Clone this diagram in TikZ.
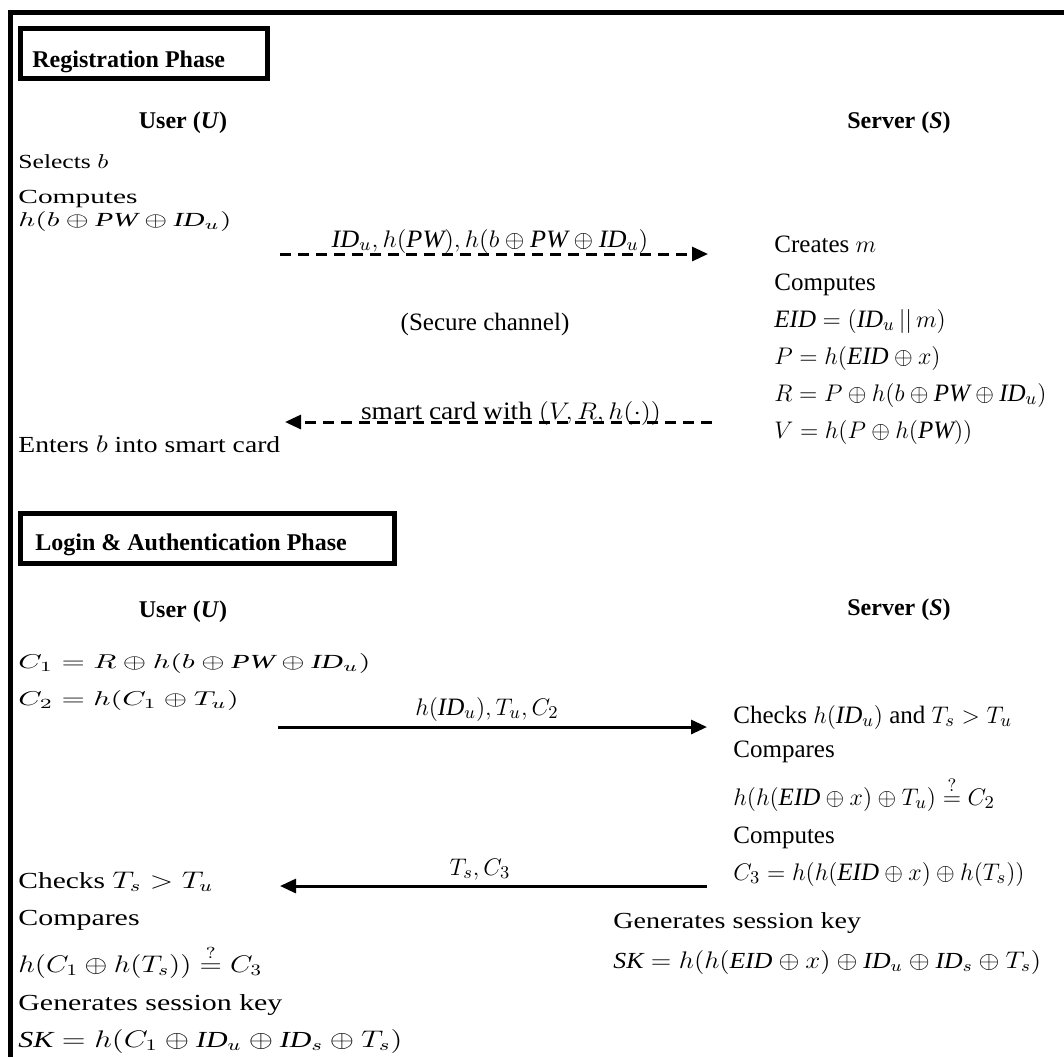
\documentclass[tikz,border=0pt]{standalone}
\usepackage{amsmath,amssymb}
\usepackage{fontspec}
\setmainfont{Liberation Serif}
\usetikzlibrary{arrows.meta}
\newcommand{\xstretch}[2]{\scalebox{#1}[1]{#2}}
\newcommand{\idf}[1]{\textnormal{\itshape #1}}
\newcommand{\qeq}{\mathrel{\smash{\stackrel{?}{=}}}}

\begin{document}
\begin{tikzpicture}[x=0.5pt,y=-0.5pt,
  txt/.style={anchor=base west, inner sep=0pt, font=\fontsize{12.5}{15}\selectfont},
  smalltxt/.style={txt, font=\fontsize{10}{12}\selectfont},
  midtxt/.style={txt, font=\fontsize{11.5}{14}\selectfont},
  lbl/.style={anchor=base, inner sep=0pt, font=\fontsize{12.5}{15}\selectfont},
  hdr/.style={anchor=base, inner sep=0pt, font=\fontsize{12}{14}\selectfont\bfseries},
  phasebox/.style={draw, line width=2.5pt, anchor=north west, minimum height=25pt},
  msg/.style={line width=1.5pt, -{Triangle[length=8pt,width=7pt]}},
  msgdash/.style={msg, dash pattern=on 5.5pt off 3.5pt}]
\useasboundingbox (0,0) rectangle (1064,1057);
\draw[line width=2.5pt] (10.5,1057) -- (10.5,12) -- (1064,12);

\node[phasebox, minimum width=123.5pt] (regbox) at (18,26) {};
\node[hdr, anchor=base west] (regtitle) at (32,67) {Registration Phase};
\node[hdr] (user1) at (183,128) {User (\textit{U})};
\node[hdr] (server1) at (899,128) {Server (\textit{S})};

\node[smalltxt] (sel) at (18,168) {\xstretch{1.28}{Selects $b$}};
\node[smalltxt] (ucomp) at (18,203) {\xstretch{1.47}{Computes}};
\node[smalltxt] (uhash) at (18,226) {\xstretch{1.47}{$h(b\oplus \idf{PW}\oplus \idf{ID}_u)$}};
\node[midtxt] (enter) at (18,452) {\xstretch{1.2}{Enters $b$ into smart card}};

\node[txt] (crm) at (774,252) {Creates $m$};
\node[txt] (scomp) at (774,290) {Computes};
\node[txt] (eid) at (774,327) {$\idf{EID}=(\idf{ID}_u\,||\,m)$};
\node[txt] (pval) at (774,364) {$P=h(\idf{EID}\oplus x)$};
\node[txt] (rval) at (774,401) {$R=P\oplus h(b\oplus \idf{PW}\oplus \idf{ID}_u)$};
\node[txt] (vval) at (774,438) {$V=h(P\oplus h(\idf{PW}))$};

\coordinate (r1a) at (280,254);
\coordinate (r1b) at (708,254);
\coordinate (r2a) at (712,422);
\coordinate (r2b) at (285,422);
\draw[msgdash] (r1a) -- (r1b);
\draw[msgdash] (r2a) -- (r2b);
\node[lbl] (r1l) at (490,247) {\xstretch{1.05}{$\idf{ID}_u, h(\idf{PW}), h(b\oplus \idf{PW}\oplus \idf{ID}_u)$}};
\node[lbl] (secure) at (485,330) {(Secure channel)};
\node[lbl] (r2l) at (511,419) {\xstretch{1.1}{smart card with $(V, R, h(\cdot))$}};

\node[phasebox, minimum width=187pt] (logbox) at (18,511) {};
\node[hdr, anchor=base west] (logtitle) at (35,550) {Login \& Authentication Phase};
\node[hdr] (user2) at (183,617) {User (\textit{U})};
\node[hdr] (server2) at (899,615) {Server (\textit{S})};

\node[smalltxt] (c1) at (18,668) {\xstretch{1.5}{$C_1=R\oplus h(b\oplus \idf{PW}\oplus \idf{ID}_u)$}};
\node[smalltxt] (c2) at (18,705) {\xstretch{1.5}{$C_2=h(C_1\oplus T_u)$}};
\node[midtxt] (uchk) at (18,888) {\xstretch{1.28}{Checks $T_s>T_u$}};
\node[midtxt] (ucmp) at (18,925) {\xstretch{1.3}{Compares}};
\node[midtxt] (ver3) at (18,972) {\xstretch{1.22}{$h(C_1\oplus h(T_s))\qeq C_3$}};
\node[midtxt] (ugen) at (18,1010) {\xstretch{1.3}{Generates session key}};
\node[midtxt] (usk) at (18,1047) {\xstretch{1.3}{$\idf{SK}=h(C_1\oplus \idf{ID}_u\oplus \idf{ID}_s\oplus T_s)$}};

\node[txt] (chk) at (733,723) {Checks $h(\idf{ID}_u)$ and $T_s>T_u$};
\node[txt] (scmp) at (733,757) {Compares};
\node[txt] (ver2) at (733,805) {$h(h(\idf{EID}\oplus x)\oplus T_u)\qeq C_2$};
\node[txt] (scomp2) at (733,843) {Computes};
\node[txt] (c3) at (733,880) {$C_3=h(h(\idf{EID}\oplus x)\oplus h(T_s))$};
\node[midtxt] (sgen) at (613,928) {\xstretch{1.22}{Generates session key}};
\node[midtxt] (ssk) at (613,968) {\xstretch{1.12}{$\idf{SK}=h(h(\idf{EID}\oplus x)\oplus \idf{ID}_u\oplus \idf{ID}_s\oplus T_s)$}};

\coordinate (l1a) at (278,727);
\coordinate (l1b) at (707,727);
\coordinate (l2a) at (707,886);
\coordinate (l2b) at (280,886);
\draw[msg] (l1a) -- (l1b);
\draw[msg] (l2a) -- (l2b);
\node[lbl] (l1l) at (487,715) {$h(\idf{ID}_u), T_u, C_2$};
\node[lbl] (l2l) at (480,875) {$T_s, C_3$};
\end{tikzpicture}
\end{document}
